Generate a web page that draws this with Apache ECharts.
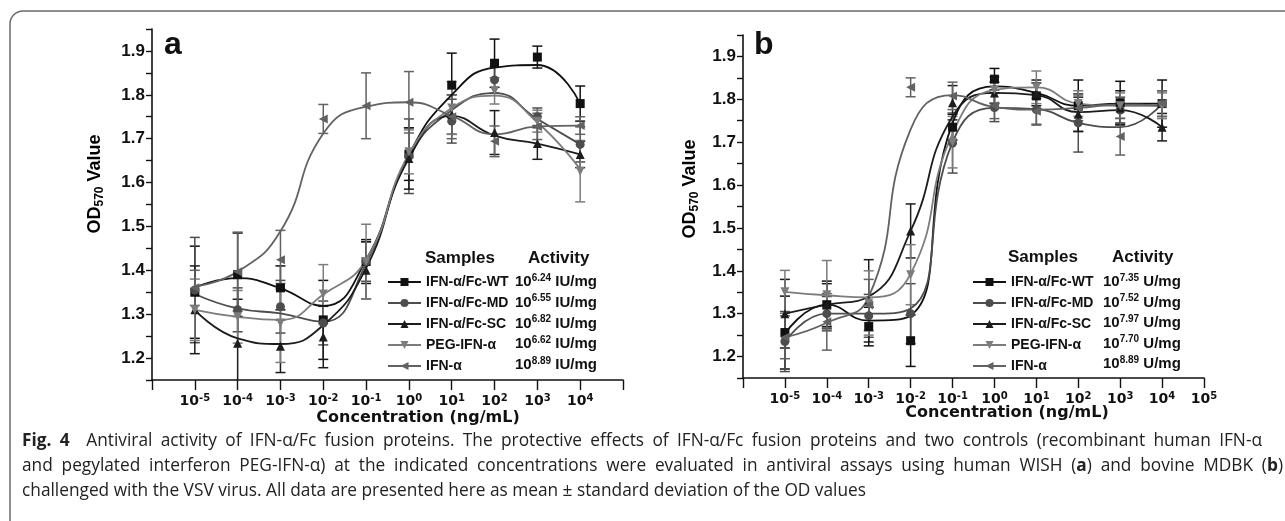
<!DOCTYPE html>
<html>
<head>
<meta charset="utf-8">
<script src="https://cdn.jsdelivr.net/npm/echarts@6/dist/echarts.min.js"></script>
<style>
html,body{margin:0;padding:0;background:#fff;}
#chart{width:1285px;height:521px;}
</style>
</head>
<body>
<div id="chart"></div>
<script>
// ---------- DATA ----------
const concExp = [-5, -4, -3, -2, -1, 0, 1, 2, 3, 4];   // log10 concentration (ng/mL)
const samples = ['IFN-α/Fc-WT', 'IFN-α/Fc-MD', 'IFN-α/Fc-SC', 'PEG-IFN-α', 'IFN-α'];
const activityA = ['6.24', '6.55', '6.82', '6.62', '8.89'];
const activityB = ['7.35', '7.52', '7.97', '7.70', '8.89'];
const unitA = 'IU/mg';
const unitB = 'U/mg';
const yTickLabels = ['1.2', '1.3', '1.4', '1.5', '1.6', '1.7', '1.8', '1.9'];

// Panel a (WISH) means
const aMeanWT  = [1.350, 1.390, 1.360, 1.287, 1.420, 1.665, 1.822, 1.872, 1.886, 1.780];
const aMeanMD  = [1.355, 1.310, 1.317, 1.280, 1.420, 1.660, 1.740, 1.834, 1.750, 1.687];
const aMeanSC  = [1.310, 1.234, 1.227, 1.248, 1.400, 1.655, 1.755, 1.714, 1.689, 1.664];
const aMeanPEG = [1.310, 1.294, 1.280, 1.346, 1.420, 1.670, 1.770, 1.809, 1.740, 1.626];
const aMeanIFN = [1.360, 1.397, 1.424, 1.745, 1.775, 1.783, 1.750, 1.694, 1.728, 1.730];
// Panel a standard deviations
const aSdWT  = [0.105, 0.095, 0.050, 0.090, 0.050, 0.060, 0.073, 0.055, 0.025, 0.040];
const aSdMD  = [0.120, 0.050, 0.060, 0.050, 0.045, 0.085, 0.050, 0.030, 0.020, 0.040];
const aSdSC  = [0.100, 0.100, 0.060, 0.070, 0.065, 0.070, 0.045, 0.050, 0.036, 0.030];
const aSdPEG = [0.070, 0.060, 0.090, 0.067, 0.085, 0.050, 0.060, 0.030, 0.025, 0.070];
const aSdIFN = [0.040, 0.090, 0.067, 0.033, 0.075, 0.070, 0.050, 0.035, 0.030, 0.020];
// Panel a fitted curves (read at each decade)
const aFitWT  = [1.361, 1.382, 1.359, 1.319, 1.424, 1.663, 1.800, 1.862, 1.868, 1.780];
const aFitMD  = [1.346, 1.313, 1.302, 1.283, 1.416, 1.658, 1.765, 1.804, 1.745, 1.687];
const aFitSC  = [1.310, 1.245, 1.232, 1.275, 1.405, 1.655, 1.752, 1.707, 1.689, 1.664];
const aFitPEG = [1.310, 1.294, 1.287, 1.345, 1.424, 1.665, 1.770, 1.798, 1.737, 1.630];
const aFitIFN = [1.363, 1.397, 1.489, 1.712, 1.773, 1.783, 1.752, 1.710, 1.728, 1.730];

// Panel b (MDBK) means
const bMeanWT  = [1.256, 1.321, 1.270, 1.237, 1.735, 1.847, 1.808, 1.785, 1.792, 1.790];
const bMeanMD  = [1.235, 1.300, 1.295, 1.300, 1.698, 1.781, 1.776, 1.745, 1.775, 1.790];
const bMeanSC  = [1.300, 1.320, 1.330, 1.493, 1.792, 1.815, 1.815, 1.765, 1.780, 1.735];
const bMeanPEG = [1.351, 1.344, 1.325, 1.391, 1.700, 1.822, 1.828, 1.790, 1.785, 1.785];
const bMeanIFN = [1.245, 1.281, 1.320, 1.828, 1.808, 1.785, 1.772, 1.780, 1.713, 1.790];
// Panel b standard deviations
const bSdWT  = [0.085, 0.055, 0.045, 0.060, 0.030, 0.025, 0.030, 0.060, 0.050, 0.055];
const bSdMD  = [0.070, 0.040, 0.050, 0.070, 0.070, 0.033, 0.036, 0.068, 0.030, 0.030];
const bSdSC  = [0.080, 0.050, 0.096, 0.063, 0.040, 0.025, 0.030, 0.040, 0.040, 0.032];
const bSdPEG = [0.050, 0.080, 0.075, 0.070, 0.060, 0.030, 0.038, 0.030, 0.030, 0.030];
const bSdIFN = [0.050, 0.066, 0.060, 0.022, 0.032, 0.030, 0.030, 0.030, 0.043, 0.030];
// Panel b fitted curves
const bFitWT  = [1.253, 1.321, 1.284, 1.296, 1.745, 1.830, 1.815, 1.785, 1.790, 1.790];
const bFitMD  = [1.234, 1.300, 1.300, 1.312, 1.700, 1.780, 1.777, 1.745, 1.735, 1.790];
const bFitSC  = [1.300, 1.321, 1.340, 1.493, 1.760, 1.815, 1.810, 1.770, 1.775, 1.735];
const bFitPEG = [1.351, 1.343, 1.338, 1.393, 1.720, 1.822, 1.828, 1.790, 1.785, 1.785];
const bFitIFN = [1.245, 1.279, 1.339, 1.730, 1.810, 1.782, 1.776, 1.780, 1.788, 1.785];

const caption1 = '{b|Fig.} {b|4}  Antiviral activity of IFN-α/Fc fusion proteins. The protective effects of IFN-α/Fc fusion proteins and two controls (recombinant human IFN-α';
const caption2 = 'and pegylated interferon PEG-IFN-α) at the indicated concentrations were evaluated in antiviral assays using human WISH ({b|a}) and bovine MDBK ({b|b})';
const caption3 = 'challenged with the VSV virus. All data are presented here as mean ± standard deviation of the OD values';

// ---------- STYLE ----------
const colors  = ['#111111', '#4d4d4d', '#1c1c1c', '#7c7c7c', '#626262'];
const symbols = ['rect', 'circle', 'triangle', 'path://M0,0 L10,0 L5,9 Z', 'path://M9,0 L9,10 L0,5 Z'];
const BOLD = 'Liberation Sans';
const AX = 'DejaVu Sans';
const CAPF = 'Open Sans';
const CAP = 17.3;

const panels = [
  { means: [aMeanWT, aMeanMD, aMeanSC, aMeanPEG, aMeanIFN], sds: [aSdWT, aSdMD, aSdSC, aSdPEG, aSdIFN],
    fits: [aFitWT, aFitMD, aFitSC, aFitPEG, aFitIFN] },
  { means: [bMeanWT, bMeanMD, bMeanSC, bMeanPEG, bMeanIFN], sds: [bSdWT, bSdMD, bSdSC, bSdPEG, bSdIFN],
    fits: [bFitWT, bFitMD, bFitSC, bFitPEG, bFitIFN] }
];

const chart = echarts.init(document.getElementById('chart'), null, { renderer: 'canvas' });

const series = [];
panels.forEach((p, pi) => {
  samples.forEach((name, si) => {
    series.push({
      type: 'custom', name: name + ' SD ' + pi, xAxisIndex: pi, yAxisIndex: pi, clip: true, silent: true, z: 2,
      data: concExp.map((x, k) => [x, p.means[si][k], p.sds[si][k]]),
      renderItem: function (params, api) {
        const x = api.value(0), m = api.value(1), s = api.value(2);
        const t = api.coord([x, m + s]), b = api.coord([x, m - s]);
        const st = { stroke: colors[si], lineWidth: 1.5 };
        return { type: 'group', children: [
          { type: 'line', shape: { x1: t[0], y1: t[1], x2: b[0], y2: b[1] }, style: st },
          { type: 'line', shape: { x1: t[0] - 5, y1: t[1], x2: t[0] + 5, y2: t[1] }, style: st },
          { type: 'line', shape: { x1: b[0] - 5, y1: b[1], x2: b[0] + 5, y2: b[1] }, style: st }
        ]};
      }
    });
  });
});
panels.forEach((p, pi) => {
  samples.forEach((name, si) => {
    series.push({
      type: 'line', name: name, xAxisIndex: pi, yAxisIndex: pi, z: 3,
      data: concExp.map((x, k) => [x, p.fits[si][k]]),
      smooth: 0.5, showSymbol: false, symbol: symbols[si], symbolSize: 9,
      lineStyle: { color: colors[si], width: 1.8 }, itemStyle: { color: colors[si] },
      emphasis: { disabled: true }
    });
  });
});
panels.forEach((p, pi) => {
  samples.forEach((name, si) => {
    series.push({
      type: 'scatter', name: name + ' mean ' + pi, xAxisIndex: pi, yAxisIndex: pi, z: 4,
      data: concExp.map((x, k) => [x, p.means[si][k]]),
      symbol: symbols[si], symbolSize: 9,
      itemStyle: { color: colors[si], opacity: 1 },
      emphasis: { disabled: true }
    });
  });
});

function xAxisFor(i, maxLabel) {
  return {
    gridIndex: i, type: 'value', min: -6, max: 5, interval: 1,
    splitLine: { show: false },
    axisLine: { onZero: false, lineStyle: { color: '#111', width: 1.6 } },
    axisTick: { length: 10, lineStyle: { color: '#111', width: 1.4 } },
    axisLabel: {
      margin: 13, color: '#111', fontFamily: AX, fontWeight: 'bold', fontSize: 14, lineHeight: 17,
      formatter: v => (v < -5 || v > maxLabel) ? '' : '10{s|' + v + '}',
      rich: { s: { fontFamily: AX, fontWeight: 'bold', fontSize: 10, lineHeight: 11, verticalAlign: 'top', color: '#111' } }
    }
  };
}
function yAxisFor(i) {
  return {
    gridIndex: i, type: 'value', min: 1.15, max: 1.95, interval: 0.05,
    splitLine: { show: false },
    axisLine: { onZero: false, lineStyle: { color: '#111', width: 1.6 } },
    axisTick: { length: 6, lineStyle: { color: '#111', width: 1.4 } },
    axisLabel: {
      margin: 7, color: '#111', fontFamily: BOLD, fontWeight: 'bold', fontSize: 17,
      formatter: v => { const t = v.toFixed(1); return (Math.abs(v - parseFloat(t)) < 1e-6 && yTickLabels.indexOf(t) >= 0) ? t : ''; }
    }
  };
}

function legendFor(left) {
  return {
    data: samples, orient: 'vertical', left: left, top: 274, padding: 0,
    itemWidth: 33, itemHeight: 10, itemGap: 5, selectedMode: false,
    textStyle: { fontFamily: BOLD, fontWeight: 'bold', fontSize: 14, color: '#111', lineHeight: 16 }
  };
}

const txt = (x, y, text, extra) => ({ type: 'text', x: x, y: y, silent: true,
  style: Object.assign({ text: text, fill: '#111', fontFamily: BOLD, fontWeight: 'bold', fontSize: 17, align: 'left', verticalAlign: 'middle' }, extra || {}) });

const actRich = {
  n: { fontFamily: BOLD, fontWeight: 'bold', fontSize: 15, lineHeight: 18, color: '#111' },
  s: { fontFamily: BOLD, fontWeight: 'bold', fontSize: 10, lineHeight: 10, verticalAlign: 'top', color: '#111' }
};
const odRich = {
  m: { fontFamily: BOLD, fontWeight: 'bold', fontSize: 18, lineHeight: 22, color: '#111' },
  s: { fontFamily: BOLD, fontWeight: 'bold', fontSize: 12, lineHeight: 12, verticalAlign: 'bottom', color: '#111' }
};
const capStyle = { fontFamily: CAPF, fontWeight: 'normal', fontSize: CAP, fill: '#222',
  rich: { b: { fontFamily: CAPF, fontWeight: 'bold', fontSize: CAP, fill: '#222' } } };

// justified caption lines: words laid out with even gaps between x0 and x1
const mctx = document.createElement('canvas').getContext('2d');
function measureWord(w) {
  let width = 0;
  const re = /\{b\|([^}]*)\}/g;
  let last = 0, m;
  while ((m = re.exec(w)) !== null) {
    if (m.index > last) { mctx.font = 'normal ' + CAP + 'px "' + CAPF + '"'; width += mctx.measureText(w.slice(last, m.index)).width; }
    mctx.font = 'bold ' + CAP + 'px "' + CAPF + '"'; width += mctx.measureText(m[1]).width;
    last = re.lastIndex;
  }
  if (last < w.length) { mctx.font = 'normal ' + CAP + 'px "' + CAPF + '"'; width += mctx.measureText(w.slice(last)).width; }
  return width;
}
function captionLine(text, y, x0, x1) {
  const words = text.split(' ');
  const widths = words.map(measureWord);
  const total = widths.reduce((a, b) => a + b, 0);
  let gap;
  if (x1 == null) { mctx.font = 'normal ' + CAP + 'px "' + CAPF + '"'; gap = mctx.measureText(' ').width; }
  else gap = (x1 - x0 - total) / (words.length - 1);
  const out = [];
  let x = x0;
  words.forEach((w, i) => {
    if (w.length) out.push(txt(x, y, w, capStyle));
    x += widths[i] + gap;
  });
  return out;
}

const graphics = [
  { type: 'rect', silent: true, shape: { x: 10, y: 11, width: 1330, height: 535, r: 13 }, style: { fill: 'none', stroke: '#6b6b6b', lineWidth: 1.5 } },
  txt(164, 45, 'a', { fontSize: 32 }),
  txt(754, 45, 'b', { fontSize: 32 }),
  { type: 'text', x: 95, y: 184, rotation: Math.PI / 2, silent: true,
    style: { text: '{m|OD}{s|570}{m| Value}', rich: odRich, align: 'center', verticalAlign: 'middle' } },
  { type: 'text', x: 690, y: 189, rotation: Math.PI / 2, silent: true,
    style: { text: '{m|OD}{s|570}{m| Value}', rich: odRich, align: 'center', verticalAlign: 'middle' } },
  txt(418, 418, 'Concentration (ng/mL)', { fontFamily: AX, fontSize: 16, align: 'center' }),
  txt(1007, 413, 'Concentration (ng/mL)', { fontFamily: AX, fontSize: 16, align: 'center' }),
  txt(425, 258, 'Samples'), txt(528, 258, 'Activity'),
  txt(1008, 257, 'Samples'), txt(1112, 257, 'Activity')
].concat(
  captionLine(caption1, 441, 22, 1262),
  captionLine(caption2, 466, 22, 1283),
  captionLine(caption3, 491, 22, null)
);
samples.forEach((s, k) => {
  graphics.push(txt(515, 282 + k * 20.7, '{n|10}{s|' + activityA[k] + '}{n| ' + unitA + '}', { rich: actRich }));
  graphics.push(txt(1103, 282 + k * 20.5, '{n|10}{s|' + activityB[k] + '}{n| ' + unitB + '}', { rich: actRich }));
});

chart.setOption({
  animation: false,
  backgroundColor: '#ffffff',
  grid: [
    { left: 152, top: 29, width: 471, height: 351 },
    { left: 743, top: 35, width: 461, height: 343 }
  ],
  xAxis: [xAxisFor(0, 4), xAxisFor(1, 5)],
  yAxis: [yAxisFor(0), yAxisFor(1)],
  legend: [legendFor(387), legendFor(972)],
  graphic: graphics,
  series: series
});
</script>
</body>
</html>
